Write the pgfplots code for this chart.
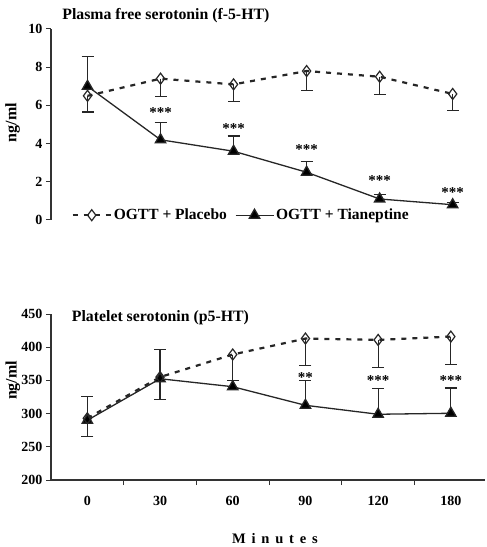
\documentclass[border=0pt]{standalone}
\usepackage{fontspec}
\setmainfont{Liberation Serif}
\usepackage{pgfplots}
\pgfplotsset{compat=1.18}

\pgfplotsset{
  panel/.style={
    scale only axis,
    anchor=south west,
    xmin=-0.5, xmax=5.47,
    font=\fontsize{14}{16}\selectfont\bfseries,
    /pgf/number format/assume math mode=true,
    tick label style={font=\fontsize{14}{16}\selectfont\bfseries},
    axis line style={black!80, line width=1.2pt, -},
    tick style={black!80, line width=1pt},
    ylabel={ng/ml},
    ylabel style={font=\fontsize{16}{18}\selectfont\bfseries},
    clip=false,
  },
  placebo/.style={black!85, line width=2.2pt, dash pattern=on 5pt off 6pt,
    mark=diamond, mark size=5.5pt, mark options={solid, fill=white, line width=1.2pt}},
  tian/.style={black!85, line width=1.3pt,
    mark=triangle*, mark size=6pt, mark options={solid, fill=black}},
  ebar/.style={draw=none, mark=none, forget plot,
    error bars/y explicit,
    error bars/error mark options={draw=black!85, line width=1.2pt, mark size=6pt, rotate=90},
    error bars/error bar style={draw=black!85, line width=1.2pt}},
  stars/.style={only marks, mark=none, forget plot, nodes near coords,
    point meta=explicit symbolic,
    every node near coord/.append style={anchor=center, font=\fontsize{15}{16}\selectfont\bfseries}},
}

\begin{document}
\begin{tikzpicture}[x=1pt, y=1pt]
\useasboundingbox (0,0) rectangle (487,547);

% top panel: plasma free serotonin
\begin{axis}[panel,
  at={(51pt,327pt)}, width=436pt, height=191pt,
  ymin=0, ymax=10, ytick={0,2,4,6,8,10},
  hide x axis,
  axis y line*=left, tick align=outside, major tick length=5pt,
  ylabel style={at={(axis description cs:-0.088,0.51)}, anchor=center},
  legend style={at={(axis description cs:0.04,0.025)}, anchor=west,
    draw=none, fill=none, legend columns=2,
    font=\fontsize{15.5}{17}\selectfont\bfseries,
    /tikz/every even column/.append style={column sep=6pt}},
  legend image code/.code={\draw[mark repeat=2, mark phase=2, #1]
    plot coordinates {(0pt,0pt) (19pt,0pt) (38pt,0pt)};},
]
\addplot[ebar, error bars/y dir=minus] coordinates {
  (0,6.5) -= (0,0.85) (1,7.4) -= (0,0.95) (2,7.1) -= (0,0.9)
  (3,7.8) -= (0,1.0) (4,7.5) -= (0,0.95) (5,6.6) -= (0,0.85)};
\addplot[ebar, error bars/y dir=plus] coordinates {
  (0,7.0) += (0,1.55) (1,4.2) += (0,0.9) (2,3.6) += (0,0.8)
  (3,2.5) += (0,0.55) (4,1.1) += (0,0.25) (5,0.8) += (0,0.1)};
\addplot[placebo] coordinates {(0,6.5) (1,7.4) (2,7.1) (3,7.8) (4,7.5) (5,6.6)};
\addlegendentry{OGTT + Placebo}
\addplot[tian] coordinates {(0,7.0) (1,4.2) (2,3.6) (3,2.5) (4,1.1) (5,0.8)};
\addlegendentry{OGTT + Tianeptine}
\addplot[stars] coordinates {(1,5.6)[***] (2,4.8)[***] (3,3.7)[***] (4,2.05)[***] (5,1.45)[***]};
\node[anchor=west, font=\fontsize{15.8}{17}\selectfont\bfseries]
  at (axis description cs:0.018,1.07) {Plasma free serotonin (f-5-HT)};
\end{axis}

% bottom panel: platelet serotonin
\begin{axis}[panel,
  at={(51pt,67pt)}, width=434pt, height=166pt,
  ymin=200, ymax=450, ytick={200,250,...,450},
  axis x line*=bottom, axis y line*=left,
  xtick={0,1,2,3,4,5}, xticklabels={0,30,60,90,120,180},
  major x tick style={draw=none},
  minor xtick={0.5,1.5,2.5,3.5,4.5},
  minor tick length=5pt,
  tick align=outside, major tick length=5pt,
  xticklabel style={yshift=-8pt},
  ylabel style={at={(axis description cs:-0.088,0.60)}, anchor=center},
  xlabel={\addfontfeature{LetterSpace=40}Minutes},
  xlabel style={at={(axis description cs:0.516,-0.35)}, anchor=center,
    font=\fontsize{14.5}{16}\selectfont\bfseries},
]
\addplot[ebar, error bars/y dir=plus] coordinates {
  (0,293) += (0,33) (1,355) += (0,41)
  (3,312.5) += (0,37.5) (4,299) += (0,38.5) (5,300.5) += (0,38)};
\addplot[ebar, error bars/y dir=minus] coordinates {
  (0,290) -= (0,25) (1,352.5) -= (0,31) (2,389) -= (0,39)
  (3,413) -= (0,41) (4,411) -= (0,42) (5,416) -= (0,42)};
\addplot[tian] coordinates {(0,290) (1,352.5) (2,340.5) (3,312.5) (4,299) (5,300.5)};
\addplot[placebo] coordinates {(0,293) (1,355) (2,389) (3,413) (4,411) (5,416)};
\addplot[stars] coordinates {(3,355)[**] (4,350)[***] (5,350)[***]};
\node[anchor=west, font=\fontsize{15.8}{17}\selectfont\bfseries]
  at (axis description cs:0.04,0.98) {Platelet serotonin (p5-HT)};
\end{axis}
\end{tikzpicture}
\end{document}
